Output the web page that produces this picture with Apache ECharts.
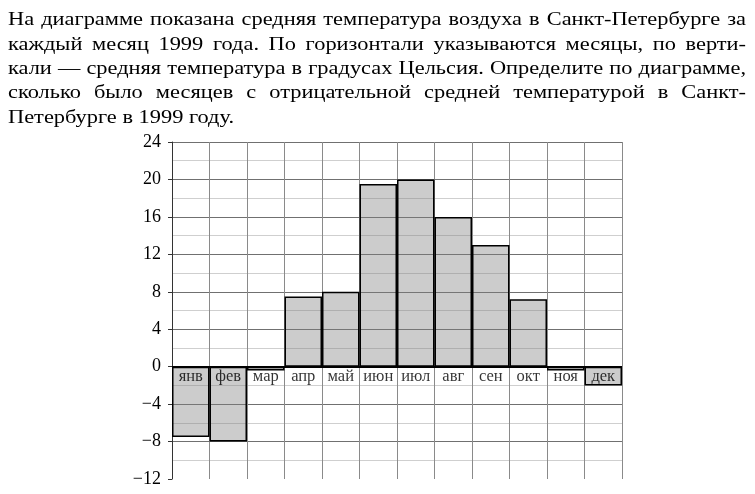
<!DOCTYPE html>
<html>
<head>
<meta charset="utf-8">
<script src="https://cdn.jsdelivr.net/npm/echarts@6/dist/echarts.min.js"></script>
<style>
  html, body { margin: 0; padding: 0; background: #fff; }
  #chart { position: absolute; left: 0; top: 0; width: 755px; height: 494px; }
  #text { position: absolute; left: 8px; top: 7px; width: 738px; z-index: 5;
          font-family: "Liberation Serif", "Times New Roman", serif; font-size: 22.4px;
          line-height: 27.93px; color: #000; transform: scaleY(0.87); transform-origin: 0 0; }
  #text div { white-space: nowrap; text-align: justify; text-align-last: justify; }
  #text div.last { text-align: left; text-align-last: left; }
</style>
</head>
<body>
<div id="chart"></div>
<div id="text"></div>
<script>
const textLines = [
  "На диаграмме показана средняя температура воздуха в Санкт-Петербурге за",
  "каждый месяц 1999 года. По горизонтали указываются месяцы, по верти-",
  "кали — средняя температура в градусах Цельсия. Определите по диаграмме,",
  "сколько было месяцев с отрицательной средней температурой в Санкт-",
  "Петербурге в 1999 году."
];
const months = ["янв", "фев", "мар", "апр", "май", "июн", "июл", "авг", "сен", "окт", "ноя", "дек"];
const temps = [-7.5, -8, -0.4, 7.5, 8, 19.5, 20, 16, 13, 7.2, -0.4, -2];
const yMin = -12, yMax = 24, yStep = 4;

const textBox = document.getElementById('text');
textLines.forEach((t, i) => {
  const d = document.createElement('div');
  d.textContent = t;
  if (i === textLines.length - 1) d.className = 'last';
  textBox.appendChild(d);
});

const chart = echarts.init(document.getElementById('chart'), null, { renderer: 'canvas' });
const splitColors = [];
for (let v = yMin; v <= yMax; v += yStep) splitColors.push(v === yMin ? 'rgba(0,0,0,0)' : '#707070');

chart.setOption({
  animation: false,
  backgroundColor: '#fff',
  grid: { left: 172, right: 133, top: 142, bottom: 15, containLabel: false },
  xAxis: {
    type: 'category',
    data: months,
    boundaryGap: true,
    axisLine: { show: false },
    axisTick: { show: false },
    axisLabel: { show: false },
    splitLine: { show: true, interval: 0, lineStyle: { color: '#8a8a8a', width: 1 } }
  },
  yAxis: {
    type: 'value',
    min: yMin, max: yMax, interval: yStep,
    axisLine: { show: true, onZero: false, lineStyle: { color: '#333', width: 1 } },
    axisTick: { show: true, length: 4, lineStyle: { color: '#333' } },
    axisLabel: { margin: 11, color: '#000', fontFamily: 'Liberation Serif', fontSize: 18,
      formatter: v => String(v).replace('-', '−') },
    splitLine: { show: true, lineStyle: { color: splitColors, width: 1 } },
    minorTick: { show: false, splitNumber: 2 },
    minorSplitLine: { show: true, lineStyle: { color: '#cfcfcf', width: 1 } }
  },
  series: [{
    type: 'bar',
    data: temps,
    barWidth: '100%',
    barCategoryGap: 0,
    itemStyle: { color: 'rgba(128,128,128,0.4)', borderColor: '#000', borderWidth: 1.5 },
    markLine: {
      silent: true, symbol: 'none', label: { show: false },
      lineStyle: { color: '#000', width: 2, type: 'solid' },
      data: [{ yAxis: 0 }]
    }
  }, {
    type: 'scatter',
    data: months.map(m => [m, 0]),
    symbolSize: 0,
    z: 5,
    label: {
      show: true, position: 'bottom', distance: 2,
      formatter: p => months[p.dataIndex],
      color: '#000', fontFamily: 'Liberation Serif', fontSize: 16.5
    }
  }]
});
</script>
</body>
</html>
